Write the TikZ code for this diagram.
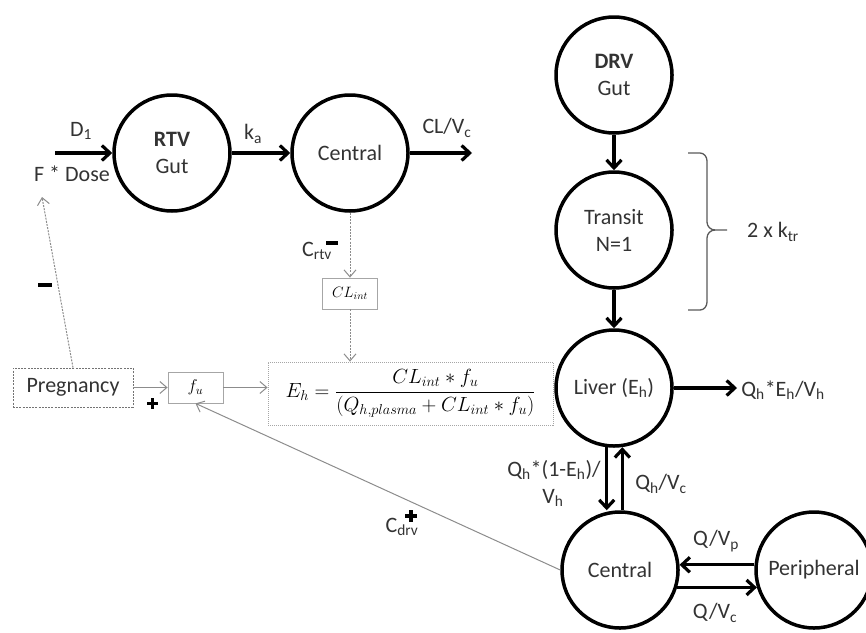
\RequirePackage{fix-cm}
\documentclass[tikz,border=0pt]{standalone}
\usepackage{fontspec}
\setmainfont{Carlito}
\usetikzlibrary{arrows.meta}
\begin{document}
\begin{tikzpicture}[x=1pt,y=-1pt,
  comp/.style={circle,draw,line width=3.5pt,minimum size=116pt,inner sep=0pt,
    font=\fontsize{22}{27}\selectfont,align=center,text=black!80},
  thickarrow/.style={line width=3.2pt,-{Straight Barb[length=8pt,width=15pt]}},
  lbl/.style={font=\fontsize{22}{27}\selectfont,text=black!80,inner sep=0pt},
  graybox/.style={draw=black!35,line width=0.8pt,inner sep=0pt},
  grayarrow/.style={draw=black!45,line width=1pt,-{Straight Barb[length=7pt,width=12pt]}},
  dasharrow/.style={grayarrow,dash pattern=on 2pt off 1.2pt},
  sign/.style={line width=3.6pt,black}
]
\useasboundingbox (0,0) rectangle (866,632);

% compartments
\node[comp] (rtv) at (172,153) {\textbf{RTV}\\Gut};
\node[comp] (c1) at (350,153) {Central};
\node[comp] (drv) at (614,75) {\textbf{DRV}\\Gut};
\node[comp] (tr) at (614,230) {Transit\\N=1};
\node[comp] (liv) at (614,388) {Liver (E\textsubscript{h})};
\node[comp] (c2) at (620,570) {Central};
\node[comp] (per) at (814,570) {Peripheral};

% gray boxes
\node[graybox,minimum width=55pt,minimum height=31pt,font=\fontsize{15}{17}\selectfont] (clint) at (350,293.5) {$CL_{int}$};
\node[graybox,minimum width=55pt,minimum height=31pt,font=\fontsize{17}{19}\selectfont] (fu) at (195.5,387.5) {$f_u$};
\node[graybox,draw=black!55,dash pattern=on 2pt off 1.2pt,minimum width=120pt,minimum height=39pt,lbl] (preg) at (73,387.5) {Pregnancy};
\node[graybox,dash pattern=on 1pt off 1pt,minimum width=285pt,minimum height=63pt,font=\fontsize{20.5}{24}\selectfont] (eh) at (410.5,393.5)
  {$E_h = \displaystyle\frac{CL_{int} * f_u}{(Q_{h,plasma} + CL_{int} * f_u)}$};

% free ends
\coordinate (d0) at (55,153);
\coordinate (clend) at (472,153);
\coordinate (qend) at (737,388);
\coordinate (doseend) at (42,197);

% thick arrows
\draw[thickarrow] (d0) -- (rtv.west);
\draw[thickarrow] (rtv) -- (c1);
\draw[thickarrow] (c1.east) -- (clend);
\draw[thickarrow] (drv) -- (tr);
\draw[thickarrow] (tr) -- (liv);
\draw[thickarrow] (liv.east) -- (qend);
\draw[thickarrow] (liv.-97) -- (c2.north -| liv.-97);
\draw[thickarrow] (liv.-82 |- c2.north) -- (liv.-82);
\draw[thickarrow] (per.175) -- (c2.5);
\draw[thickarrow] (c2.-17) -- (per.-163);

% gray arrows
\draw[dasharrow] (c1.south) -- (clint.north);
\draw[dasharrow] (clint.south) -- (clint.south |- eh.north);
\draw[dasharrow] (preg.north) -- (doseend);
\draw[grayarrow] (preg) -- (fu);
\draw[grayarrow] (fu.east) -- (fu.east -| eh.west);
\draw[grayarrow] (c2.west) -- (fu.south);

% brace
\draw[black!65,line width=1.3pt] (688,153) -- (700,153) to[out=0,in=90] (707,161) -- (707,222)
  to[out=-90,in=180] (715,230) -- (727,230);
\draw[black!65,line width=1.3pt] (715,230) to[out=180,in=90] (707,238) -- (707,302)
  to[out=-90,in=0] (700,310) -- (688,310);

% labels
\node[lbl] (ld1) at (81,131) {D\textsubscript{1}};
\node[lbl] (ldose) at (72,174) {F * Dose};
\node[lbl] (lka) at (253,134) {k\textsubscript{a}};
\node[lbl] (lcl) at (447,128) {CL/V\textsubscript{c}};
\node[lbl] (lcrtv) at (317,251) {C\textsubscript{rtv}};
\node[lbl] (lktr) at (773,232) {2 x k\textsubscript{tr}};
\node[lbl] (lqe) at (783,390) {Q\textsubscript{h}*E\textsubscript{h}/V\textsubscript{h}};
\node[lbl] (lq1) at (554,470) {Q\textsubscript{h}*(1-E\textsubscript{h})/};
\node[lbl] (lvh) at (553,498) {V\textsubscript{h}};
\node[lbl] (lqhvc) at (661,484) {Q\textsubscript{h}/V\textsubscript{c}};
\node[lbl] (lqvp) at (716,541) {Q/V\textsubscript{p}};
\node[lbl] (lqvc) at (715,613) {Q/V\textsubscript{c}};
\node[lbl] (lcdrv) at (402,527) {C\textsubscript{drv}};

% signs
\draw[sign] (326,243) -- (338,243);
\draw[sign] (38,285) -- (52,285);
\draw[sign] (147,403.5) -- (158,403.5) (152.5,398) -- (152.5,409);
\draw[sign] (405,516) -- (417,516) (411,510) -- (411,522);
\end{tikzpicture}
\end{document}
